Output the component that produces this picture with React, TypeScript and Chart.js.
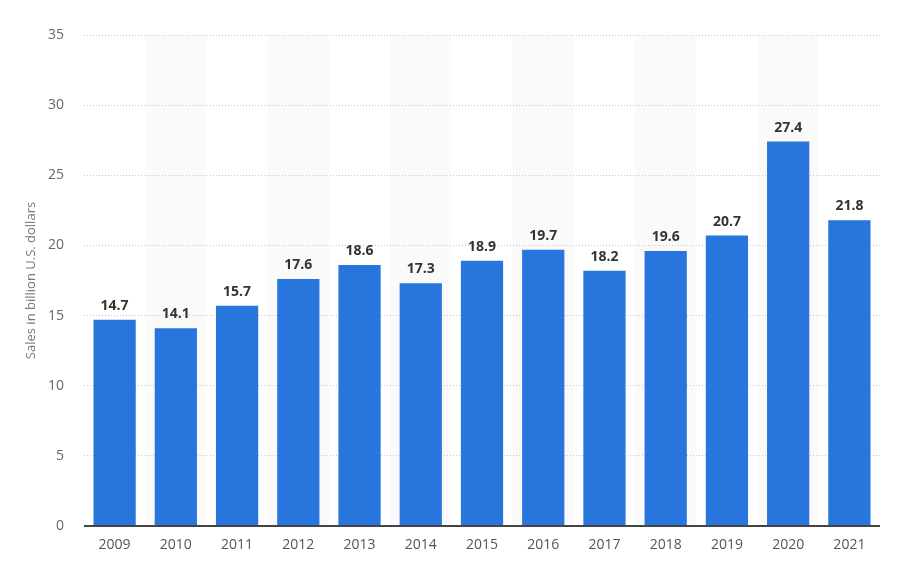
import { useEffect, useRef } from 'react';
import { Chart, ChartConfiguration, Plugin, registerables } from 'chart.js';

Chart.register(...registerables);

const years = ['2009', '2010', '2011', '2012', '2013', '2014', '2015', '2016', '2017', '2018', '2019', '2020', '2021'];
const sales = [14.7, 14.1, 15.7, 17.6, 18.6, 17.3, 18.9, 19.7, 18.2, 19.6, 20.7, 27.4, 21.8];
const yTicks = [0, 5, 10, 15, 20, 25, 30, 35];

const FONT = "'Open Sans', 'Noto Sans', sans-serif";

// shade every other column, under the grid
const stripes: Plugin<'bar'> = {
  id: 'stripes',
  beforeDraw(chart) {
    const { ctx, chartArea, scales } = chart;
    const x = scales.x;
    const step = x.width / years.length;
    ctx.save();
    ctx.fillStyle = '#fafafa';
    years.forEach((_, i) => {
      if (i % 2 === 1) {
        const c = x.getPixelForValue(i);
        ctx.fillRect(c - step / 2, chartArea.top, step, chartArea.bottom - chartArea.top);
      }
    });
    ctx.restore();
  },
};

// dark baseline + value labels on top of bars
const labels: Plugin<'bar'> = {
  id: 'labels',
  afterDatasetsDraw(chart) {
    const { ctx, chartArea } = chart;
    ctx.save();
    ctx.strokeStyle = '#444';
    ctx.lineWidth = 2;
    ctx.beginPath();
    ctx.moveTo(chartArea.left, chartArea.bottom);
    ctx.lineTo(chartArea.right, chartArea.bottom);
    ctx.stroke();

    ctx.font = `bold 14px ${FONT}`;
    ctx.fillStyle = '#333';
    ctx.textAlign = 'center';
    ctx.textBaseline = 'bottom';
    const meta = chart.getDatasetMeta(0);
    meta.data.forEach((bar, i) => {
      ctx.fillText(sales[i].toFixed(1), bar.x, bar.y - 7);
    });
    ctx.restore();
  },
};

export default function App() {
  const chartRef = useRef<HTMLCanvasElement>(null);
  const chartInstance = useRef<Chart | null>(null);

  useEffect(() => {
    document.body.style.margin = '0';
    if (!chartRef.current) return;
    if (chartInstance.current) chartInstance.current.destroy();

    const config: ChartConfiguration<'bar'> = {
      type: 'bar',
      data: {
        labels: years,
        datasets: [
          {
            label: 'Sales',
            data: sales,
            backgroundColor: '#2876dd',
            barPercentage: 0.69,
            categoryPercentage: 1,
          },
        ],
      },
      options: {
        responsive: false,
        animation: false,
        layout: { padding: { top: 35, right: 22, left: 0, bottom: 0 } },
        plugins: {
          legend: { display: false },
          tooltip: { enabled: false },
        },
        scales: {
          x: {
            grid: { display: false, drawTicks: false },
            border: { display: false },
            ticks: { color: '#555', font: { family: FONT, size: 14 }, padding: 11 },
            afterFit(scale) {
              scale.height = 60;
            },
          },
          y: {
            min: 0,
            max: 35,
            afterBuildTicks(scale) {
              scale.ticks = yTicks.map((v) => ({ value: v }));
            },
            grid: {
              color: (c) => (c.tick && c.tick.value === 0 ? 'rgba(0,0,0,0)' : '#c8c8c8'),
              drawTicks: false,
            },
            border: { display: false, dash: [1, 2] },
            ticks: { color: '#666', font: { family: FONT, size: 14 }, padding: 20 },
            title: {
              display: true,
              text: 'Sales in billion U.S. dollars',
              color: '#777',
              font: { family: FONT, size: 13 },
              padding: { top: 23, bottom: 0 },
            },
            afterFit(scale) {
              scale.width = 84;
            },
          },
        },
      },
      plugins: [stripes, labels],
    };

    chartInstance.current = new Chart(chartRef.current, config);
    return () => {
      if (chartInstance.current) {
        chartInstance.current.destroy();
        chartInstance.current = null;
      }
    };
  }, []);

  return (
    <div style={{ width: 902, height: 586, background: '#fff' }}>
      <canvas ref={chartRef} width={902} height={586}></canvas>
    </div>
  );
}
